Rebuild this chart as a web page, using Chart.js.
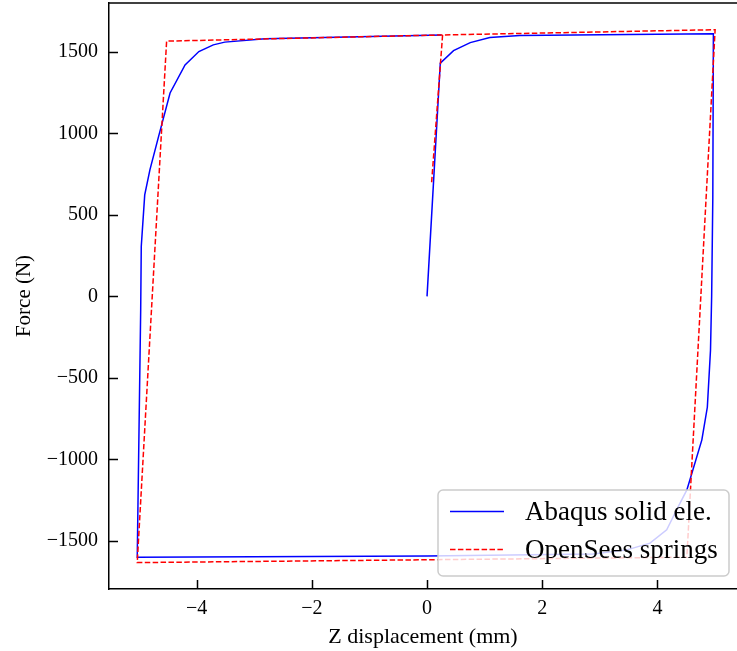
<!DOCTYPE html>
<html>
<head>
<meta charset="utf-8">
<script src="https://cdn.jsdelivr.net/npm/chart.js@4/dist/chart.umd.min.js"></script>
<style>
  html, body { margin: 0; padding: 0; background: #fff; }
  #wrap { width: 737px; height: 651px; }
</style>
</head>
<body>
<div id="wrap"><canvas id="loop" width="737" height="651"></canvas></div>
<script>
var abaqusX = [0, 0.23, 0.46, 0.75, 1.09, 1.61, 3.5, 4.97, 4.96, 4.94, 4.92, 4.865, 4.77, 4.51, 4.36, 4.16, 3.87, 3.47, 2.88, 0, -5.03, -4.97, -4.96, -4.90, -4.81, -4.66, -4.46, -4.20, -3.96, -3.71, -3.51, -2.81, 0.25];
var abaqusY = [0, 1431, 1508, 1557, 1588, 1600, 1607, 1612, 600, 0, -330, -680, -880, -1187, -1290, -1432, -1514, -1555, -1580, -1593, -1600, -83, 306, 623, 776, 980, 1248, 1420, 1502, 1543, 1560, 1580, 1603];

var openseesX = [0.08, 0.27, 5.0, 4.51, -5.03, -4.52, 0.27];
var openseesY = [700, 1604, 1636, -1600, -1633, 1566, 1604];

var xTicks = [-4, -2, 0, 2, 4];
var yTicks = [-1500, -1000, -500, 0, 500, 1000, 1500];
var legendLabels = ['Abaqus solid ele.', 'OpenSees springs'];

var serif = '"Liberation Serif", "Times New Roman", serif';
var blue = '#0000ff';
var red = '#ff0000';
var redDash = [5.5, 2.4];

var toPoints = function(xs, ys) {
    var pts = [];
    for (var i = 0; i < xs.length; i++) pts.push({x: xs[i], y: ys[i]});
    return pts;
};

var minus = function(v) {
    return String(v).replace('-', '\u2212');
};

// matplotlib style frame: top spine + inward ticks
var framePlugin = {
    id: 'frame',
    afterDatasetsDraw: function(chart) {
        var ctx = chart.ctx, a = chart.chartArea;
        var xs = chart.scales.x, ys = chart.scales.y;
        ctx.save();
        ctx.strokeStyle = '#000';
        ctx.lineWidth = 1.5;
        ctx.beginPath();
        ctx.moveTo(a.left, a.top);
        ctx.lineTo(a.right, a.top);
        ctx.stroke();
        ctx.beginPath();
        xTicks.forEach(function(t) {
            var px = Math.round(xs.getPixelForValue(t)) + 0.5;
            ctx.moveTo(px, a.bottom);
            ctx.lineTo(px, a.bottom - 9);
        });
        yTicks.forEach(function(t) {
            var py = Math.round(ys.getPixelForValue(t)) + 0.5;
            ctx.moveTo(a.left, py);
            ctx.lineTo(a.left + 9, py);
        });
        ctx.stroke();
        ctx.restore();
    }
};

var legendPlugin = {
    id: 'boxLegend',
    afterDraw: function(chart) {
        var ctx = chart.ctx;
        var bx = 438, by = 490, bw = 291, bh = 86;
        ctx.save();
        ctx.beginPath();
        ctx.roundRect(bx, by, bw, bh, 5);
        ctx.fillStyle = 'rgba(255,255,255,0.8)';
        ctx.fill();
        ctx.strokeStyle = '#cccccc';
        ctx.lineWidth = 1.5;
        ctx.stroke();

        ctx.lineWidth = 1.5;
        ctx.strokeStyle = blue;
        ctx.beginPath();
        ctx.moveTo(450, 511.5);
        ctx.lineTo(504, 511.5);
        ctx.stroke();

        ctx.strokeStyle = red;
        ctx.setLineDash(redDash);
        ctx.beginPath();
        ctx.moveTo(450, 549.5);
        ctx.lineTo(504, 549.5);
        ctx.stroke();
        ctx.setLineDash([]);

        ctx.fillStyle = '#000';
        ctx.font = '27px ' + serif;
        ctx.textBaseline = 'middle';
        ctx.fillText(legendLabels[0], 525, 513);
        ctx.fillText(legendLabels[1], 525, 551);
        ctx.restore();
    }
};

new Chart(document.getElementById('loop').getContext('2d'), {
    type: 'scatter',
    data: {
        datasets: [{
            label: legendLabels[0],
            data: toPoints(abaqusX, abaqusY),
            showLine: true,
            borderColor: blue,
            borderWidth: 1.5,
            pointRadius: 0,
            order: 1
        }, {
            label: legendLabels[1],
            data: toPoints(openseesX, openseesY),
            showLine: true,
            borderColor: red,
            borderWidth: 1.5,
            borderDash: redDash,
            pointRadius: 0,
            order: 0
        }]
    },
    options: {
        responsive: false,
        animation: false,
        devicePixelRatio: 1,
        layout: { padding: { top: 3, right: 0, bottom: 0, left: 0 } },
        plugins: {
            legend: { display: false },
            tooltip: { enabled: false }
        },
        scales: {
            x: {
                type: 'linear',
                min: -5.52,
                max: 5.38,
                afterFit: function(scale) {
                    scale.height = 62;
                    scale.paddingLeft = 0;
                    scale.paddingRight = 0;
                },
                afterBuildTicks: function(scale) {
                    scale.ticks = xTicks.map(function(v) { return {value: v}; });
                },
                grid: { display: false, drawTicks: false },
                border: { display: true, color: '#000', width: 1.5 },
                ticks: {
                    color: '#000',
                    padding: 8,
                    maxRotation: 0,
                    font: { family: serif, size: 20 },
                    callback: function(v) { return minus(v); }
                },
                title: {
                    display: true,
                    text: 'Z displacement (mm)',
                    color: '#000',
                    font: { family: serif, size: 22 },
                    padding: { top: 0, bottom: 1 }
                }
            },
            y: {
                type: 'linear',
                min: -1795,
                max: 1800,
                afterFit: function(scale) {
                    scale.width = 109;
                    scale.paddingTop = 0;
                    scale.paddingBottom = 0;
                },
                afterBuildTicks: function(scale) {
                    scale.ticks = yTicks.map(function(v) { return {value: v}; });
                },
                grid: { display: false, drawTicks: false },
                border: { display: true, color: '#000', width: 1.5 },
                ticks: {
                    color: '#000',
                    padding: 11,
                    font: { family: serif, size: 20 },
                    callback: function(v) { return minus(v); }
                },
                title: {
                    display: true,
                    text: 'Force (N)',
                    color: '#000',
                    font: { family: serif, size: 21 },
                    padding: { top: 12, bottom: 0 }
                }
            }
        }
    },
    plugins: [framePlugin, legendPlugin]
});
</script>
</body>
</html>
